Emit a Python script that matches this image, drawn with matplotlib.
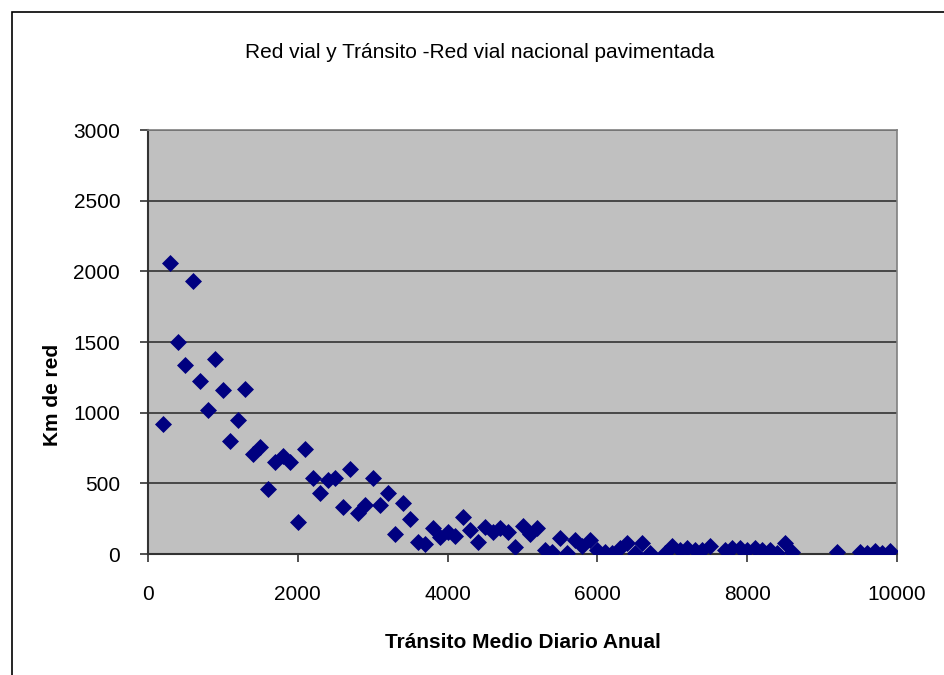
import matplotlib
matplotlib.use("Agg")
import matplotlib.pyplot as plt
from matplotlib.patches import Rectangle

transito = [200, 300, 400, 500, 600, 700, 800, 900, 1000, 1100, 1200, 1300, 1400, 1500,
            1600, 1700, 1800, 1900, 2000, 2100, 2200, 2300, 2400, 2500, 2600, 2700, 2800,
            2900, 3000, 3100, 3200, 3300, 3400, 3500, 3600, 3700, 3800, 3900, 4000, 4100,
            4200, 4300, 4400, 4500, 4600, 4700, 4800, 4900, 5000, 5100, 5200, 5300, 5400,
            5500, 5600, 5700, 5800, 5900, 6000, 6100, 6200, 6300, 6400, 6500, 6600, 6700,
            6900, 7000, 7100, 7200, 7300, 7400, 7500, 7700, 7800, 7900, 8000, 8100, 8200,
            8300, 8400, 8500, 8600, 9200, 9500, 9600, 9700, 9800, 9900]
km_red = [920, 2060, 1500, 1340, 1930, 1225, 1020, 1380, 1160, 800, 950, 1170, 710, 760,
          460, 650, 690, 650, 225, 745, 540, 430, 525, 540, 335, 600, 290,
          345, 540, 345, 430, 140, 360, 250, 85, 70, 185, 120, 155, 130,
          260, 170, 85, 190, 155, 185, 155, 50, 200, 145, 185, 30, 15,
          115, 5, 100, 60, 100, 30, 15, 5, 40, 75, 5, 75, 5,
          5, 60, 30, 45, 30, 30, 60, 30, 40, 40, 30, 40, 30,
          30, 5, 75, 15, 15, 15, 5, 20, 5, 20]

title = "Red vial y Tránsito -Red vial nacional pavimentada"
xlabel = "Tránsito Medio Diario Anual"
ylabel = "Km de red"
xticks = [0, 2000, 4000, 6000, 8000, 10000]
yticks = [0, 500, 1000, 1500, 2000, 2500, 3000]

plt.rcParams['font.family'] = ['Liberation Sans', 'DejaVu Sans']

fig = plt.figure(figsize=(9.44, 6.75), dpi=100)
W, H = 944, 675
ax = fig.add_axes([148 / W, 1 - 554 / H, (897 - 148) / W, (554 - 130) / H])

# outer chart frame
fig.patches.append(Rectangle((12 / W, -0.1), 1.2, 1 - 12 / H + 0.1, transform=fig.transFigure,
                             fill=False, edgecolor='black', linewidth=1.2))

ax.set_facecolor('#C0C0C0')
ax.scatter(transito, km_red, marker='D', s=75, color='#000080', linewidths=0, zorder=3)
ax.set_xlim(0, 10000)
ax.set_ylim(0, 3000)
ax.set_xticks(xticks)
ax.set_yticks(yticks)
ax.set_xticklabels([str(v) for v in xticks])
ax.set_yticklabels([str(v) for v in yticks])
ax.yaxis.grid(True, color='#333333', linewidth=1.2, zorder=1)
ax.set_axisbelow(True)
for s in ['top', 'right']:
    ax.spines[s].set_color('#808080')
    ax.spines[s].set_linewidth(1.2)
for s in ['left', 'bottom']:
    ax.spines[s].set_color('#333333')
    ax.spines[s].set_linewidth(1.5)
ax.tick_params(axis='both', direction='out', length=6, width=1.2, color='#333333',
               labelsize=15)
ax.tick_params(axis='y', pad=14)
ax.tick_params(axis='x', pad=16)

fig.text(480 / W, 1 - 53 / H, title, ha='center', va='center', fontsize=15)
fig.text(523 / W, 1 - 643 / H, xlabel, ha='center', va='center', fontsize=15, fontweight='bold')
fig.text(52 / W, 1 - 395 / H, ylabel, ha='center', va='center', fontsize=15,
         fontweight='bold', rotation=90)

fig.savefig('out.png', dpi=100)
